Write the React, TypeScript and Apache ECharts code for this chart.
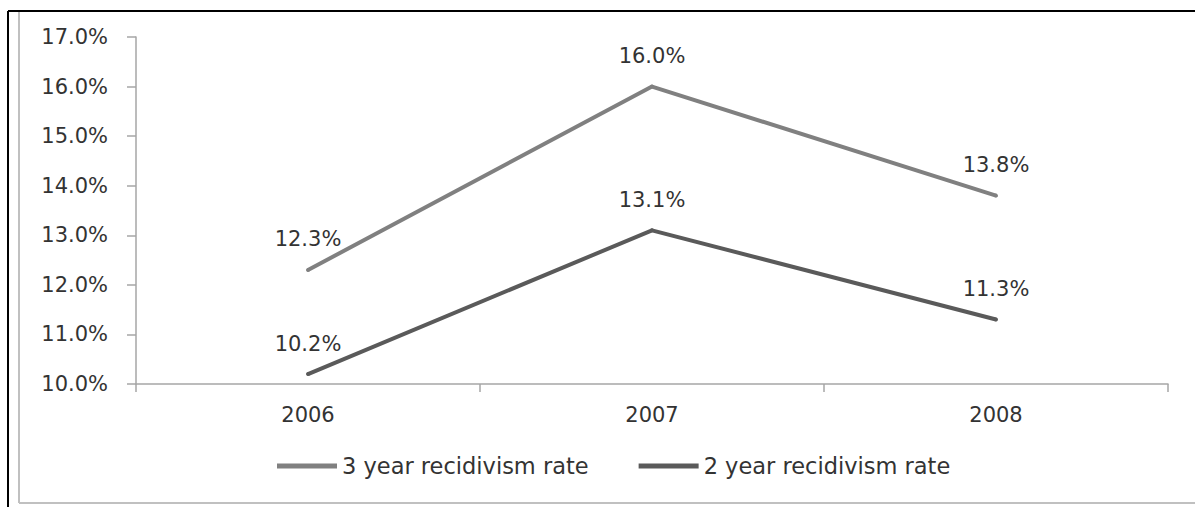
import React, { useEffect, useRef } from "react";
import * as echarts from "echarts";

const years = ["2006", "2007", "2008"];
const threeYear = [12.3, 16.0, 13.8];
const twoYear = [10.2, 13.1, 11.3];
const seriesNames = ["3 year recidivism rate", "2 year recidivism rate"];

const FONT = "'DejaVu Sans', sans-serif";
const TEXT = "#333333";

export default function App() {
  const ref = useRef<HTMLDivElement>(null);
  useEffect(() => {
    document.body.style.margin = "0";
    const chart = echarts.init(ref.current!, null, { renderer: "svg" });
    const label = {
      show: true,
      position: "top",
      distance: 18,
      color: TEXT,
      fontFamily: FONT,
      fontSize: 21,
      formatter: (p: any) => p.value.toFixed(1) + "%",
    };
    chart.setOption({
      animation: false,
      backgroundColor: "#ffffff",
      grid: { left: 136, right: 27, top: 37, bottom: 123 },
      xAxis: {
        type: "category",
        data: years,
        boundaryGap: true,
        axisLine: { lineStyle: { color: "#a6a6a6", width: 1.5 } },
        axisTick: { show: true, length: 8, lineStyle: { color: "#a6a6a6", width: 1.5 } },
        axisLabel: { color: TEXT, fontFamily: FONT, fontSize: 21, margin: 20 },
      },
      yAxis: {
        type: "value",
        min: 10,
        max: 17,
        interval: 1,
        splitLine: { show: false },
        axisLine: { show: true, lineStyle: { color: "#a6a6a6", width: 1.5 } },
        axisTick: { show: true, length: 9, lineStyle: { color: "#a6a6a6", width: 1.5 } },
        axisLabel: {
          color: TEXT,
          fontFamily: FONT,
          fontSize: 21,
          margin: 28,
          formatter: (v: number) => v.toFixed(1) + "%",
        },
      },
      legend: {
        left: 272,
        top: 449,
        itemWidth: 60,
        itemHeight: 5,
        itemGap: 50,
        icon: "rect",
        textStyle: { color: TEXT, fontFamily: FONT, fontSize: 22.5, lineHeight: 24 },
        data: seriesNames,
      },
      series: [
        {
          name: seriesNames[0],
          type: "line",
          data: threeYear,
          symbol: "circle",
          symbolSize: 4,
          lineStyle: { color: "#808080", width: 4 },
          itemStyle: { color: "#808080" },
          label,
        },
        {
          name: seriesNames[1],
          type: "line",
          data: twoYear,
          symbol: "circle",
          symbolSize: 4,
          lineStyle: { color: "#5a5a5a", width: 4 },
          itemStyle: { color: "#5a5a5a" },
          label,
        },
      ],
      graphic: [
        { type: "line", shape: { x1: 8, y1: 11, x2: 1195, y2: 11 }, style: { stroke: "#000", lineWidth: 2 } },
        { type: "line", shape: { x1: 8, y1: 11, x2: 8, y2: 507 }, style: { stroke: "#000", lineWidth: 2 } },
        { type: "line", shape: { x1: 19, y1: 12, x2: 19, y2: 503 }, style: { stroke: "#c0c0c0", lineWidth: 2 } },
        { type: "line", shape: { x1: 19, y1: 503, x2: 1195, y2: 503 }, style: { stroke: "#c0c0c0", lineWidth: 2 } },
      ],
    });
    return () => chart.dispose();
  }, []);
  return <div ref={ref} style={{ width: 1195, height: 507 }} />;
}
